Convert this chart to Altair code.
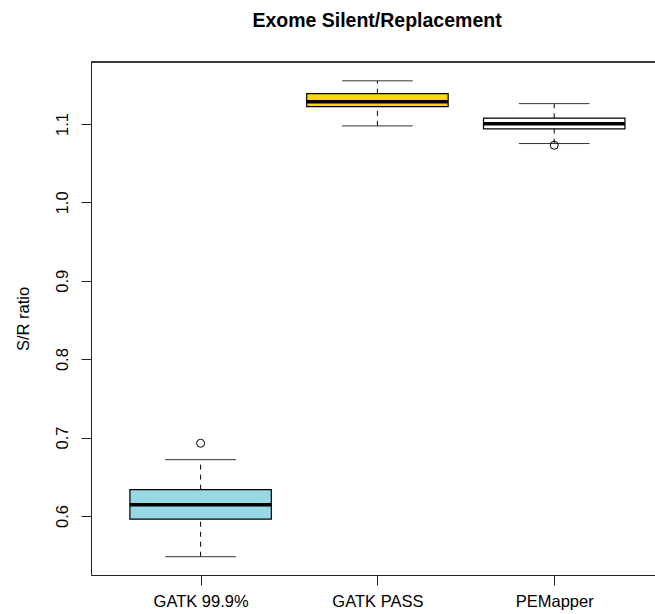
import json
import altair as alt
import pandas as pd

# ---- data ----
categories = ["GATK 99.9%", "GATK PASS", "PEMapper"]
positions = [1, 2, 3]
lower_whisker = [0.548, 1.0975, 1.075]
q1 = [0.596, 1.122, 1.0936]
median = [0.6144, 1.1284, 1.1004]
q3 = [0.6336, 1.1387, 1.1073]
upper_whisker = [0.6718, 1.155, 1.1259]
box_colors = ["#98d8e4", "#ffd700", "#ffffff"]

outlier_cats = ["GATK 99.9%", "PEMapper"]
outlier_vals = [0.6927, 1.0728]

y_ticks = [0.6, 0.7, 0.8, 0.9, 1.0, 1.1]

df = pd.DataFrame({
    "cat": categories, "pos": positions, "lw": lower_whisker, "q1": q1,
    "med": median, "q3": q3, "uw": upper_whisker, "color": box_colors,
})
pos_of = dict(zip(categories, positions))
df_out = pd.DataFrame({"cat": outlier_cats, "pos": [pos_of[c] for c in outlier_cats], "val": outlier_vals})

W, H = 564, 513
FONT = "Liberation Sans"
FS = 16.5

xscale = alt.Scale(domain=[0.38, 3.57], nice=False, zero=False)
yscale = alt.Scale(domain=[0.5247, 1.179], nice=False, zero=False)

label_expr = json.dumps(categories) + "[datum.value - 1]"

xaxis = alt.Axis(values=positions, labelExpr=label_expr, title=None, grid=False,
                 tickSize=10, labelPadding=21, labelBaseline="alphabetic",
                 labelFontSize=FS, labelFont=FONT,
                 labelColor="black", domainColor="#222", tickColor="#222",
                 labelFlush=False, labelOverlap=False)
yaxis = alt.Axis(values=y_ticks, format=".1f", title="S/R ratio", grid=False,
                 tickSize=10, labelAngle=270, labelAlign="center", labelBaseline="alphabetic",
                 labelPadding=13.5, labelFontSize=FS, labelFont=FONT, labelColor="black",
                 titleFont=FONT, titleFontSize=FS, titleFontWeight="normal",
                 titleColor="black", titleX=-63, titleY=H / 2, titleBaseline="alphabetic",
                 titleAlign="center", titleAngle=270, domainColor="#222", tickColor="#222",
                 labelFlush=False, labelOverlap=False)

base = alt.Chart(df).transform_calculate(
    bx1="datum.pos - 0.4", bx2="datum.pos + 0.4",
    cx1="datum.pos - 0.2", cx2="datum.pos + 0.2",
)

whisk_lo = base.mark_rule(color="black", strokeWidth=1, strokeDash=[5, 5]).encode(
    x=alt.X("pos:Q", scale=xscale, axis=xaxis),
    y=alt.Y("lw:Q", scale=yscale, axis=yaxis),
    y2="q1:Q",
)
whisk_hi = base.mark_rule(color="black", strokeWidth=1, strokeDash=[5, 5]).encode(
    x="pos:Q", y="q3:Q", y2="uw:Q",
)
cap_lo = base.mark_rule(color="#333", strokeWidth=1).encode(
    x="cx1:Q", x2="cx2:Q", y="lw:Q",
)
cap_hi = base.mark_rule(color="#333", strokeWidth=1).encode(
    x="cx1:Q", x2="cx2:Q", y="uw:Q",
)
boxes = base.mark_rect(stroke="black", strokeWidth=1.2).encode(
    x="bx1:Q", x2="bx2:Q", y="q1:Q", y2="q3:Q",
    color=alt.Color("color:N", scale=None, legend=None),
)
medians = base.mark_rule(color="black", strokeWidth=3.5).encode(
    x="bx1:Q", x2="bx2:Q", y="med:Q",
)
outliers = alt.Chart(df_out).mark_point(shape="circle", filled=False, color="black",
                                        strokeWidth=1, size=64, opacity=1).encode(
    x="pos:Q", y="val:Q",
)
top_frame = alt.Chart(df).mark_rule(color="#222", strokeWidth=1).encode(
    x=alt.value(0), x2=alt.value(W), y=alt.value(0),
)

chart = alt.layer(
    whisk_lo, whisk_hi, cap_lo, cap_hi, boxes, medians, outliers, top_frame
).properties(
    width=W, height=H,
    padding={"left": 91, "top": 62, "right": 0, "bottom": 39},
    autosize=alt.AutoSizeParams(type="none"),
    title=alt.TitleParams("Exome Silent/Replacement", font=FONT, fontSize=19.5,
                          fontWeight="bold", color="black", anchor="middle",
                          offset=30, dx=4),
).configure_view(stroke=None).configure(background="white")

chart.save("out.html", embed_options={"renderer": "svg", "actions": False})
